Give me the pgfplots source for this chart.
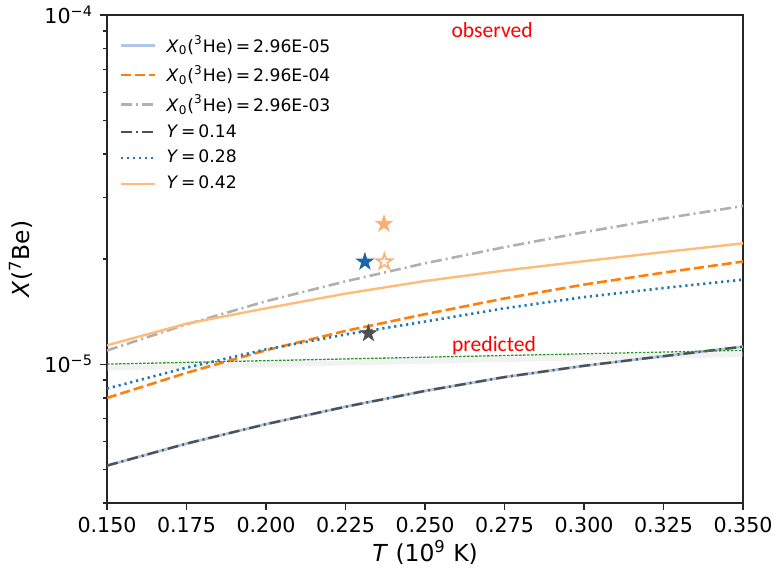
\documentclass[border=0pt]{standalone}
\usepackage{fontspec}
\setmainfont{DejaVu Sans}
\newfontfamily\calibri{Carlito}
\usepackage{pgfplots}
\pgfplotsset{compat=1.18}
\definecolor{lblue}{HTML}{AEC7E8}
\definecolor{torange}{HTML}{FF7F0E}
\definecolor{lgray}{HTML}{B0B0B0}
\definecolor{dgray}{HTML}{505050}
\definecolor{tblue}{HTML}{1F77B4}
\definecolor{lorange}{HTML}{FFBB78}
\definecolor{sorange}{HTML}{FAB06E}
\definecolor{sblue}{HTML}{1A65A3}
\definecolor{pgreen}{HTML}{1E9A1E}
\pgfdeclareplotmark{fstar}{%
  \pgfpathmoveto{\pgfpointpolar{90}{\pgfplotmarksize}}%
  \pgfpathlineto{\pgfpointpolar{126}{0.382\pgfplotmarksize}}%
  \pgfpathlineto{\pgfpointpolar{162}{\pgfplotmarksize}}%
  \pgfpathlineto{\pgfpointpolar{198}{0.382\pgfplotmarksize}}%
  \pgfpathlineto{\pgfpointpolar{234}{\pgfplotmarksize}}%
  \pgfpathlineto{\pgfpointpolar{270}{0.382\pgfplotmarksize}}%
  \pgfpathlineto{\pgfpointpolar{306}{\pgfplotmarksize}}%
  \pgfpathlineto{\pgfpointpolar{342}{0.382\pgfplotmarksize}}%
  \pgfpathlineto{\pgfpointpolar{18}{\pgfplotmarksize}}%
  \pgfpathlineto{\pgfpointpolar{54}{0.382\pgfplotmarksize}}%
  \pgfpathclose
  \pgfusepathqfillstroke
}
\begin{document}
\begin{tikzpicture}
\begin{axis}[
  scale only axis,
  width=318pt, height=244pt,
  ymode=log,
  xmin=0.15, xmax=0.35,
  ymin=4e-6, ymax=1e-4,
  xtick={0.15,0.175,0.2,0.225,0.25,0.275,0.3,0.325,0.35},
  xticklabels={0.150,0.175,0.200,0.225,0.250,0.275,0.300,0.325,0.350},
  ytick={1e-5,1e-4},
  yticklabels={10\textsuperscript{−5},10\textsuperscript{−4}},
  minor ytick={4e-6,5e-6,6e-6,7e-6,8e-6,9e-6,2e-5,3e-5,4e-5,5e-5,6e-5,7e-5,8e-5,9e-5},
  tick pos=left,
  tick align=outside,
  major tick length=3.5pt,
  minor tick length=2pt,
  axis line style={black!85, line width=0.6pt},
  every tick/.style={black!85, line width=0.6pt},
  tick label style={font=\fontsize{10.3}{12}\selectfont},
  label style={font=\fontsize{11.7}{13}\selectfont},
  xlabel={\textit{T} (10\textsuperscript{9} K)},
  xlabel style={yshift=3pt},
  ylabel={\textit{X}(\textsuperscript{7}Be)},
  ylabel style={yshift=-1pt},
  legend cell align=left,
  legend style={at={(0.01,0.975)}, anchor=north west, draw=none, fill=none,
    font=\fontsize{8.6}{9.5}\selectfont, row sep=1pt, column sep=3pt},
  clip=true,
]
\coordinate (bl) at (rel axis cs:0,0);
\coordinate (tr) at (rel axis cs:1,1);
% shadow of predicted line
\addplot[forget plot, gray!30, line width=2.5pt, opacity=0.35, yshift=-2pt] coordinates {(0.15,1.0e-5) (0.35,1.095e-5)};
\addplot[lblue, line width=1.4pt] table {
x y
0.150 5.12e-6
0.175 5.92e-6
0.200 6.73e-6
0.225 7.55e-6
0.250 8.38e-6
0.275 9.18e-6
0.300 9.89e-6
0.325 1.054e-5
0.350 1.122e-5
};
\addlegendentry{\textit{X}\textsubscript{0}(\textsuperscript{3}He)\,=\,2.96E-05}
\addplot[torange, line width=1.3pt, dash pattern=on 5pt off 2pt] table {
x y
0.150 8.00e-6
0.175 9.44e-6
0.200 1.096e-5
0.225 1.245e-5
0.250 1.390e-5
0.275 1.542e-5
0.300 1.690e-5
0.325 1.828e-5
0.350 1.968e-5
};
\addlegendentry{\textit{X}\textsubscript{0}(\textsuperscript{3}He)\,=\,2.96E-04}
\addplot[lgray, line width=1.3pt, dash pattern=on 5.5pt off 2pt on 1pt off 2pt] table {
x y
0.150 1.094e-5
0.175 1.300e-5
0.200 1.514e-5
0.225 1.726e-5
0.250 1.945e-5
0.275 2.163e-5
0.300 2.388e-5
0.325 2.612e-5
0.350 2.838e-5
};
\addlegendentry{\textit{X}\textsubscript{0}(\textsuperscript{3}He)\,=\,2.96E-03}
\addplot[dgray, line width=1.2pt, dash pattern=on 5.5pt off 2pt on 1pt off 2pt] table {
x y
0.150 5.12e-6
0.175 5.92e-6
0.200 6.73e-6
0.225 7.55e-6
0.250 8.38e-6
0.275 9.18e-6
0.300 9.89e-6
0.325 1.054e-5
0.350 1.122e-5
};
\addlegendentry{\textit{Y}\,=\,0.14}
\addplot[tblue, line width=1.3pt, dash pattern=on 1.1pt off 1.9pt] table {
x y
0.150 8.51e-6
0.175 9.77e-6
0.200 1.102e-5
0.225 1.216e-5
0.250 1.324e-5
0.275 1.445e-5
0.300 1.556e-5
0.325 1.652e-5
0.350 1.746e-5
};
\addlegendentry{\textit{Y}\,=\,0.28}
\addplot[lorange, line width=1.2pt] table {
x y
0.150 1.132e-5
0.175 1.306e-5
0.200 1.445e-5
0.225 1.592e-5
0.250 1.730e-5
0.275 1.854e-5
0.300 1.972e-5
0.325 2.094e-5
0.350 2.218e-5
};
\addlegendentry{\textit{Y}\,=\,0.42}
% predicted line
\addplot[forget plot, pgreen, line width=0.65pt, dash pattern=on 1.3pt off 0.7pt] coordinates {(0.15,1.0e-5) (0.35,1.095e-5)};
% stars
\addplot[forget plot, only marks, mark=fstar, mark size=4.3pt, mark options={draw=sorange, fill=sorange, line width=0.4pt}] coordinates {(0.2371,2.52e-5)};
\addplot[forget plot, only marks, mark=fstar, mark size=4.3pt, mark options={draw=sblue, fill=sblue, line width=0.4pt}] coordinates {(0.2311,1.964e-5)};
\addplot[forget plot, only marks, mark=fstar, mark size=4.1pt, mark options={draw=sorange, fill=white, line width=0.8pt}] coordinates {(0.2372,1.964e-5)};
\addplot[forget plot, only marks, mark=fstar, mark size=4.3pt, mark options={draw=dgray, fill=dgray, line width=0.4pt}] coordinates {(0.2322,1.225e-5)};
\node[text=red, font=\calibri\fontsize{10.8}{12}\selectfont] at (axis cs:0.2711,9.06e-5) {observed};
\node[text=red, font=\calibri\fontsize{10.8}{12}\selectfont] at (axis cs:0.2717,1.13e-5) {predicted};
\end{axis}
\pgfresetboundingbox
\path ([shift={(-53.5pt,-33pt)}]bl) rectangle ([shift={(15.5pt,7.5pt)}]tr);
\end{tikzpicture}
\end{document}
